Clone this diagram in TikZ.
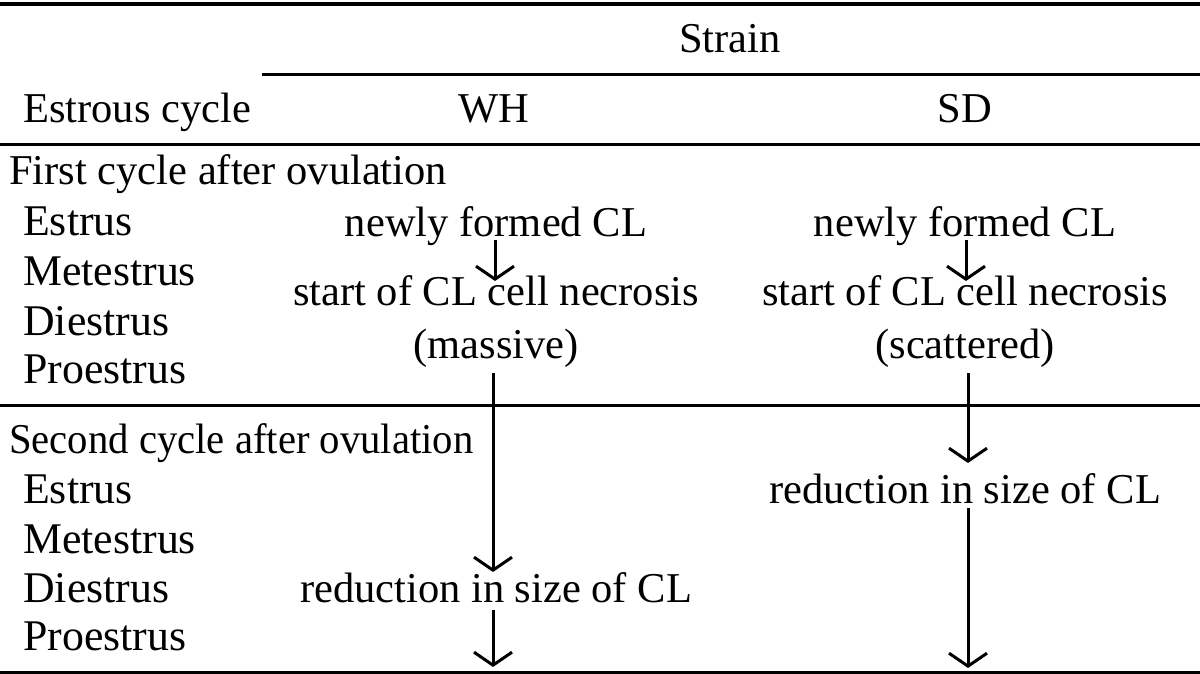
\documentclass[tikz,border=0pt]{standalone}
\usepackage{fontspec}
\setmainfont{Liberation Serif}
\usetikzlibrary{arrows.meta}
\begin{document}
\begin{tikzpicture}[x=1pt,y=-1pt,
  txt/.style={inner sep=0pt, anchor=base, font=\fontsize{42.5}{50}\selectfont},
  ltxt/.style={txt, anchor=base west},
  rowtxt/.style={ltxt, font=\fontsize{43.8}{50}\selectfont},
  rule/.style={line width=3pt},
  arr/.style={line width=3pt, -{Straight Barb[length=13pt,width=38pt]}}]
\useasboundingbox (0,0) rectangle (1200,674);
\fill[white] (0,0) rectangle (1200,674);
% rules
\draw[rule, line width=4pt] (0,4) -- (1200,4);
\draw[rule] (262,75) -- (1200,75);
\draw[rule] (0,145) -- (1200,145);
\draw[rule] (0,405) -- (1200,405);
\draw[rule] (0,672) -- (1200,672);
% header
\node[txt] (strain) at (730,53) {Strain};
\node[ltxt] (ec) at (23,123) {Estrous cycle};
\node[txt] (wh) at (494,123) {WH};
\node[txt] (sd) at (965,123) {SD};
% left column
\node[ltxt] (c1) at (9,185) {First cycle after ovulation};
\node[rowtxt] (e1) at (23,235) {Estrus};
\node[rowtxt] (m1) at (23,285) {Metestrus};
\node[rowtxt] (d1) at (23,335) {Diestrus};
\node[rowtxt] (p1) at (23,383) {Proestrus};
\node[ltxt] (c2) at (9,453) {\scalebox{0.957}[1]{Second cycle after ovulation}};
\node[rowtxt] (e2) at (23,503) {Estrus};
\node[rowtxt] (m2) at (23,553) {Metestrus};
\node[rowtxt] (d2) at (23,602) {Diestrus};
\node[rowtxt] (p2) at (23,650) {Proestrus};
% WH column
\node[txt] (wh1) at (496,236) {newly formed CL};
\node[txt] (wh2) at (496,305) {start of CL cell necrosis};
\node[txt] (wh3) at (496,358) {(massive)};
\node[txt] (whr) at (496,602) {reduction in size of CL};
% SD column
\node[txt] (sd1) at (965,236) {newly formed CL};
\node[txt] (sd2) at (965,305) {start of CL cell necrosis};
\node[txt] (sd3) at (965,358) {(scattered)};
\node[txt] (sdr) at (965,503) {reduction in size of CL};
% free ends
\coordinate (whend) at ([xshift=-3pt,yshift=-65pt]whr.base);
\coordinate (sdend) at ([xshift=3pt,yshift=-165pt]sdr.base);
% arrows
\draw[arr] ([xshift=-1pt,yshift=-4pt]wh1.base) -- ([xshift=-1pt,yshift=24pt]wh2.base);
\draw[arr] ([xshift=-3pt,yshift=-15pt]wh3.base) -- ([xshift=-3pt,yshift=30pt]whr.base);
\draw[arr] ([xshift=-3pt,yshift=-8pt]whr.base) -- (whend);
\draw[arr] ([xshift=1pt,yshift=-4pt]sd1.base) -- ([xshift=1pt,yshift=24pt]sd2.base);
\draw[arr] ([xshift=3pt,yshift=-15pt]sd3.base) -- ([xshift=3pt,yshift=40pt]sdr.base);
\draw[arr] ([xshift=3pt,yshift=-5pt]sdr.base) -- (sdend);
\end{tikzpicture}
\end{document}
